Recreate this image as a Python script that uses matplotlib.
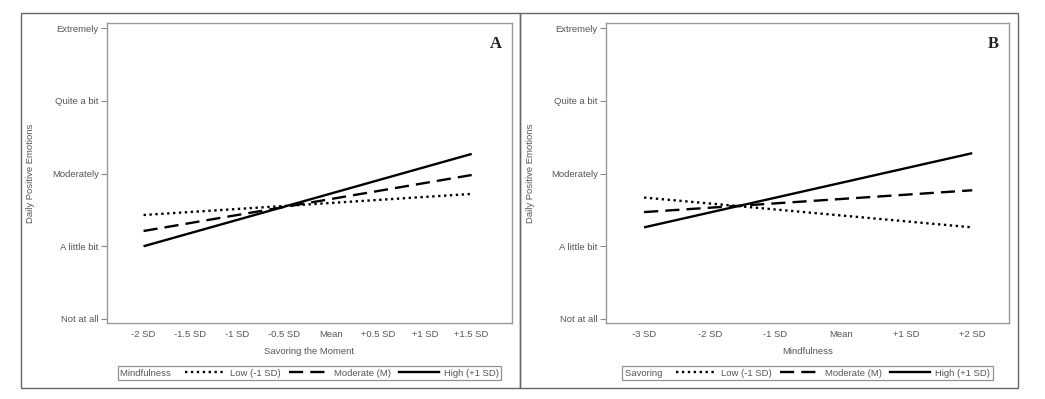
import matplotlib
matplotlib.use("Agg")
import matplotlib.pyplot as plt
from matplotlib.lines import Line2D
from matplotlib.patches import Rectangle

# ---- data ----
y_ticks = [1, 2, 3, 4, 5]
y_labels = ["Not at all", "A little bit", "Moderately", "Quite a bit", "Extremely"]

a_x_ticks = [-2, -1.5, -1, -0.5, 0, 0.5, 1, 1.5]
a_x_labels = ["-2 SD", "-1.5 SD", "-1 SD", "-0.5 SD", "Mean", "+0.5 SD", "+1 SD", "+1.5 SD"]
a_x = [-2, 1.5]
a_low = [2.43, 2.72]
a_mod = [2.21, 2.98]
a_high = [2.00, 3.27]

b_x_ticks = [-3, -2, -1, 0, 1, 2]
b_x_labels = ["-3 SD", "-2 SD", "-1 SD", "Mean", "+1 SD", "+2 SD"]
b_x = [-3, 2]
b_low = [2.67, 2.26]
b_mod = [2.47, 2.77]
b_high = [2.26, 3.28]

series_labels = ["Low (-1 SD)", "Moderate (M)", "High (+1 SD)"]

plt.rcParams['font.family'] = ['Liberation Sans', 'DejaVu Sans']
TXT = '#555555'
FS = 6.8

fig = plt.figure(figsize=(10.45, 3.99), dpi=100)

# outer panel frames
for (l, r) in [(21, 520), (520, 1018)]:
    fig.patches.append(Rectangle((l / 1045, 11 / 399), (r - l) / 1045, (386 - 11) / 399,
                                 transform=fig.transFigure, fill=False,
                                 edgecolor='#666666', lw=1.0))

styles = [dict(ls=(0, (1, 1.5)), lw=1.7),
          dict(ls=(0, (6, 3)), lw=1.7),
          dict(ls='-', lw=1.7)]


def panel(rect, xs, lows, mods, highs, xt, xtl, xlim, xlabel, letter, legtitle, ylab_x):
    ax = fig.add_axes(rect)
    for ys, st in zip([lows, mods, highs], styles):
        ax.plot(xs, ys, color='black', solid_capstyle='butt', dash_capstyle='butt', **st)
    ax.set_xlim(*xlim)
    ax.set_ylim(0.945, 5.07)
    ax.set_yticks(y_ticks)
    ax.set_yticklabels(y_labels)
    ax.set_xticks(xt)
    ax.set_xticklabels(xtl)
    ax.tick_params(axis='y', length=4, width=0.8, color='#888888', labelsize=FS,
                   labelcolor=TXT, pad=2)
    ax.tick_params(axis='x', length=0, labelsize=FS, labelcolor=TXT, pad=5)
    for s in ax.spines.values():
        s.set_color('#999999')
        s.set_linewidth(1.0)
    ax.set_ylabel("Daily Positive Emotions", fontsize=FS, color=TXT)
    ax.yaxis.set_label_coords(ylab_x, 0.5)
    ax.set_xlabel(xlabel, fontsize=FS, color=TXT)
    ax.xaxis.set_label_coords(0.5, -0.08)
    ax.text(0.975, 0.93, letter, transform=ax.transAxes, ha='right', va='center',
            fontsize=12, fontweight='bold', family='Liberation Serif', color='#222222')

    handles = [Line2D([], [], color='none')] + [
        Line2D([], [], color='black', **st) for st in styles]
    labels = [legtitle + "  "] + series_labels
    cx = rect[0] + rect[2] / 2
    leg = ax.legend(handles, labels, ncol=4, loc='center',
                    bbox_to_anchor=(cx, 26 / 399), bbox_transform=fig.transFigure,
                    fontsize=FS, frameon=True, fancybox=False, handlelength=4.2,
                    handletextpad=0.55, columnspacing=0.9, borderpad=0.25,
                    borderaxespad=0)
    leg.get_frame().set_edgecolor('#777777')
    leg.get_frame().set_linewidth(0.9)
    for t in leg.get_texts():
        t.set_color(TXT)
    # remove the empty handle box before the title entry
    try:
        col0 = leg._legend_handle_box.get_children()[0]
        hp = col0.get_children()[0]
        hp._children = hp._children[1:]
    except Exception:
        pass
    return ax


panel([107 / 1045, 76 / 399, 405 / 1045, 300 / 399], a_x, a_low, a_mod, a_high,
      a_x_ticks, a_x_labels, (-2.39, 1.93), "Savoring the Moment", "A", "Mindfulness", -0.178)
panel([606 / 1045, 76 / 399, 403 / 1045, 300 / 399], b_x, b_low, b_mod, b_high,
      b_x_ticks, b_x_labels, (-3.58, 2.56), "Mindfulness", "B", "Savoring", -0.176)

fig.savefig("out.png", dpi=100, facecolor='white')
